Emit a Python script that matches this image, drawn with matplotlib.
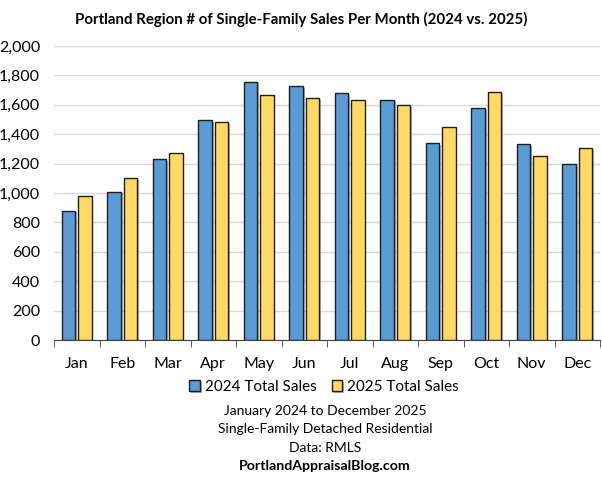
import numpy as np
import matplotlib
matplotlib.use("Agg")
import matplotlib.pyplot as plt
import matplotlib.patheffects as pe
from matplotlib.ticker import FuncFormatter, MultipleLocator

months = ["Jan", "Feb", "Mar", "Apr", "May", "Jun",
          "Jul", "Aug", "Sep", "Oct", "Nov", "Dec"]
sales_2024 = [879, 1008, 1232, 1497, 1758, 1728, 1681, 1635, 1339, 1576, 1334, 1194]
sales_2025 = [981, 1103, 1273, 1484, 1667, 1644, 1635, 1597, 1450, 1685, 1255, 1305]
series_labels = ["2024 Total Sales", "2025 Total Sales"]
footer_lines = ["January 2024 to December 2025",
                "Single-Family Detached Residential",
                "Data: RMLS"]
site = "PortlandAppraisalBlog.com"

plt.rcParams['font.family'] = ['Lato', 'DejaVu Sans']

fig = plt.figure(figsize=(6.02, 4.8), dpi=100)
ax = fig.add_axes([54 / 602, 140 / 480, 546 / 602, 294 / 480])

x = np.arange(len(months))
width = 0.3
off = 0.18
shadow = [pe.SimplePatchShadow(offset=(1.2, -1.2), shadow_rgbFace="#808080", alpha=0.6), pe.Normal()]
b1 = ax.bar(x - off, sales_2024, width, color="#5B9BD5", edgecolor="#1F1F1F",
            linewidth=1.0, label=series_labels[0], zorder=3)
b2 = ax.bar(x + off, sales_2025, width, color="#FFD966", edgecolor="#1F1F1F",
            linewidth=1.0, label=series_labels[1], zorder=3)
for bar in list(b1) + list(b2):
    bar.set_path_effects(shadow)

ax.set_xlim(-0.5, len(months) - 0.5)
ax.set_ylim(0, 2000)
ax.yaxis.set_major_locator(MultipleLocator(200))
ax.yaxis.set_major_formatter(FuncFormatter(lambda v, p: f"{int(v):,}"))
ax.grid(axis="y", color="#D9D9D9", linewidth=1.0, zorder=0)
ax.set_axisbelow(True)

for s in ["top", "right", "left"]:
    ax.spines[s].set_visible(False)
ax.spines["bottom"].set_color("#404040")

ax.set_xticks(x)
ax.set_xticklabels(months)
ax.set_xticks(np.arange(-0.5, len(months)), minor=True)
ax.tick_params(axis="x", which="major", length=0, pad=12, labelsize=11.5)
ax.tick_params(axis="x", which="minor", length=5, color="#404040")
ax.tick_params(axis="y", length=0, pad=10, labelsize=11.5)

fig.text(0.5, 1 - 19 / 480, "Portland Region # of Single-Family Sales Per Month (2024 vs. 2025)",
         ha="center", va="center", fontsize=10.8, fontweight="bold")

fig.legend(handles=[b1, b2], labels=series_labels, loc="center",
           bbox_to_anchor=(324 / 602, 1 - 387 / 480), ncol=2, frameon=False,
           fontsize=11, handlelength=0.7, handleheight=0.7, handletextpad=0.3,
           columnspacing=1.0)

for i, line in enumerate(footer_lines):
    fig.text(325 / 602, 1 - (411 + 18.3 * i) / 480, line, ha="center", va="center", fontsize=10)
fig.text(325 / 602, 1 - 466 / 480, site, ha="center", va="center", fontsize=10.2, fontweight="bold")

fig.savefig("out.png", dpi=100)
